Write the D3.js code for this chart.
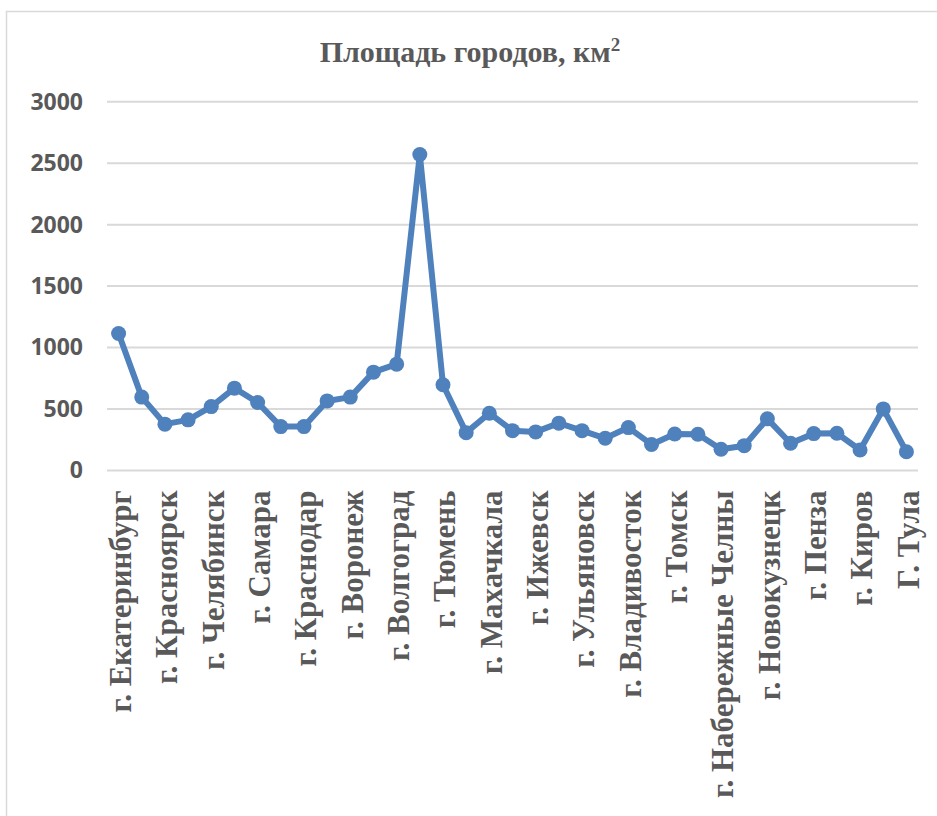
<!DOCTYPE html>
<html>
<head>
<meta charset="utf-8">
<script src="https://cdn.jsdelivr.net/npm/d3@7"></script>
<style>
  body { margin: 0; background: #fff; }
</style>
</head>
<body>
<svg id="chart" width="937" height="816"></svg>
<script>
// города и площадь, км2
const cities = [
    'г. Екатеринбург', 'г. Казань', 'г. Красноярск', 'г. Нижний Новгород', 'г. Челябинск',
    'г. Уфа', 'г. Самара', 'г. Ростов-на-Дону', 'г. Краснодар', 'г. Омск',
    'г. Воронеж', 'г. Пермь', 'г. Волгоград', 'г. Саратов', 'г. Тюмень',
    'г. Тольятти', 'г. Махачкала', 'г. Барнаул', 'г. Ижевск', 'г. Хабаровск',
    'г. Ульяновск', 'г. Иркутск', 'г. Владивосток', 'г. Ярославль', 'г. Томск',
    'г. Кемерово', 'г. Набережные Челны', 'г. Астрахань', 'г. Новокузнецк', 'г. Рязань',
    'г. Пенза', 'г. Липецк', 'г. Киров', 'г. Чебоксары', 'Г. Тула'
];
const areas = [
    1115, 597, 377, 412, 520,
    670, 553, 357, 357, 566,
    597, 800, 865, 2570, 697,
    308, 466, 324, 314, 385,
    324, 262, 349, 212, 297,
    295, 173, 202, 420, 222,
    300, 303, 167, 501, 153
];
const yTicks = [0, 500, 1000, 1500, 2000, 2500, 3000];

const svg = d3.select('#chart');
const textColor = '#595959';
const lineColor = '#4f81bd';

// рамка области диаграммы
svg.append('rect')
    .attr('x', 6.5)
    .attr('y', 11.5)
    .attr('width', 960)
    .attr('height', 840)
    .attr('fill', 'none')
    .attr('stroke', '#d9d9d9')
    .attr('stroke-width', 1.5);

// заголовок
const title = svg.append('text')
    .attr('x', 470)
    .attr('y', 62)
    .attr('text-anchor', 'middle')
    .attr('fill', textColor)
    .style('font-family', '"Liberation Serif", "Times New Roman", serif')
    .style('font-weight', 'bold')
    .style('font-size', '30px');
title.append('tspan').text('Площадь городов, км');
title.append('tspan').attr('dy', -11).style('font-size', '19px').text('2');

const x = d3.scalePoint()
    .domain(cities)
    .range([107, 918])
    .padding(0.5);

const y = d3.scaleLinear()
    .domain([0, 3000])
    .range([470.5, 101.7]);

// сетка
svg.append('g')
    .attr('class', 'grid')
    .selectAll('line')
    .data(yTicks)
    .enter()
    .append('line')
    .attr('x1', 107)
    .attr('x2', 918)
    .attr('y1', d => y(d))
    .attr('y2', d => y(d))
    .attr('stroke', '#d9d9d9')
    .attr('stroke-width', 2);

// ось Y
const yAxis = svg.append('g')
    .attr('transform', 'translate(83,0)')
    .call(d3.axisLeft(y).tickValues(yTicks).tickSize(0).tickPadding(0).tickFormat(d3.format('d')));
yAxis.select('.domain').remove();
yAxis.selectAll('text')
    .attr('fill', textColor)
    .style('font-family', '"Open Sans", "Liberation Sans", sans-serif')
    .style('font-weight', 'bold')
    .style('font-size', '23px');

// ось X (подписи через одну)
const xAxis = svg.append('g')
    .attr('transform', 'translate(0,470.5)')
    .call(d3.axisBottom(x).tickValues(cities.filter((d, i) => i % 2 === 0)).tickSize(0));
xAxis.select('.domain').remove();
xAxis.selectAll('text')
    .attr('fill', textColor)
    .attr('text-anchor', 'end')
    .attr('transform', 'rotate(-90)')
    .attr('x', -20)
    .attr('y', 0)
    .attr('dy', '0.38em')
    .style('font-family', '"Liberation Serif", "Times New Roman", serif')
    .style('font-weight', 'bold')
    .style('font-size', '31px');

// линия
const line = d3.line()
    .x((d, i) => x(cities[i]))
    .y(d => y(d));

svg.append('path')
    .datum(areas)
    .attr('d', line)
    .attr('fill', 'none')
    .attr('stroke', lineColor)
    .attr('stroke-width', 6)
    .attr('stroke-linejoin', 'round');

svg.append('g')
    .selectAll('circle')
    .data(areas)
    .enter()
    .append('circle')
    .attr('cx', (d, i) => x(cities[i]))
    .attr('cy', d => y(d))
    .attr('r', 7.5)
    .attr('fill', lineColor);
</script>
</body>
</html>
